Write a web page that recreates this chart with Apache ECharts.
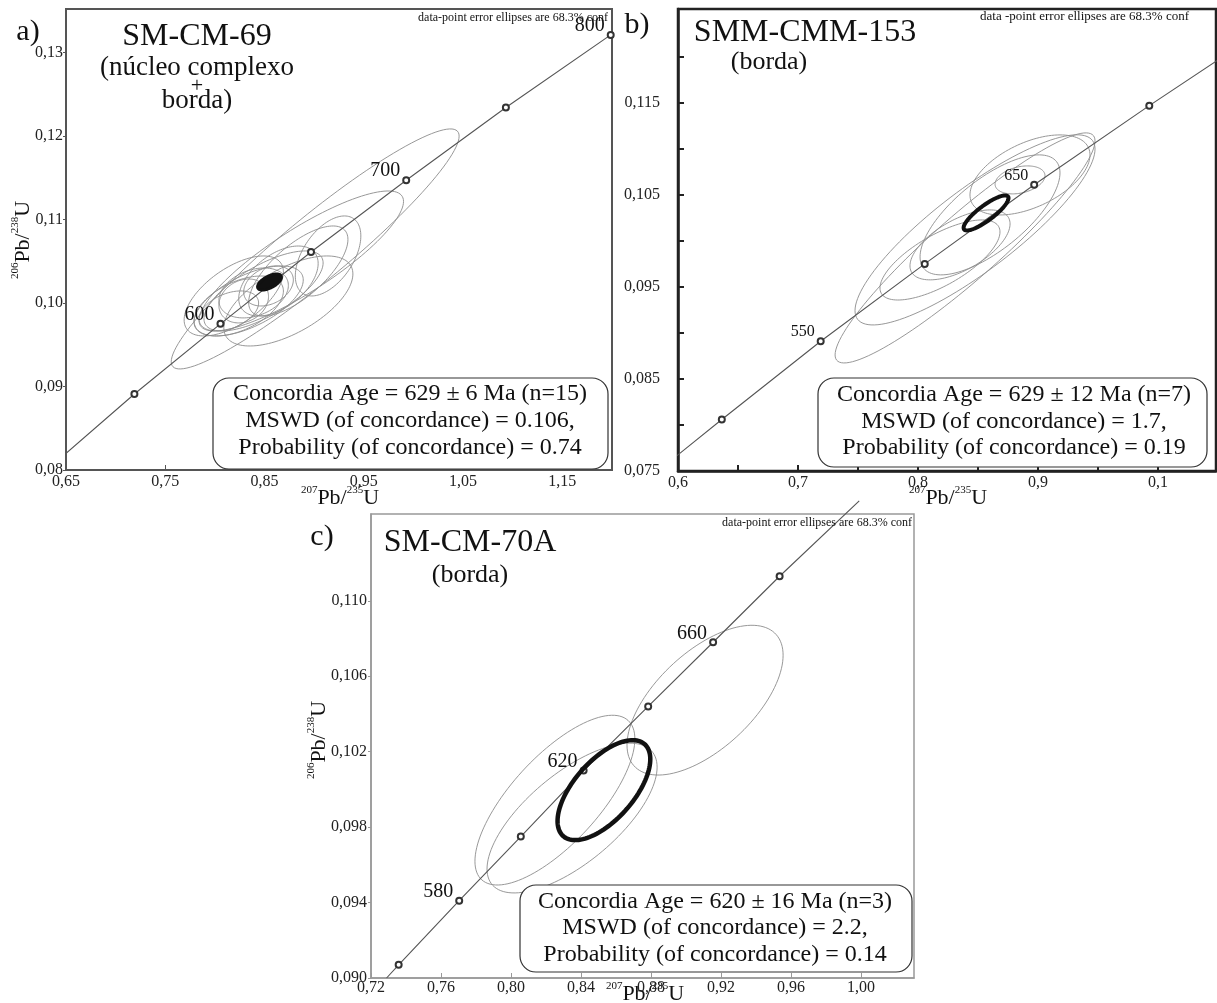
<!DOCTYPE html>
<html><head><meta charset="utf-8">
<script src="https://cdn.jsdelivr.net/npm/echarts@6/dist/echarts.min.js"></script>
<style>html,body{margin:0;padding:0;background:#fff}#c{width:1217px;height:1003px}</style>
</head><body><div id="c"></div>
<script>
// ---------- Concordia reference points (age in Ma, 207Pb/235U, 206Pb/238U) ----------
const ageA   = [500, 550, 600, 650, 700, 750, 800];
const concXA = [0.6365, 0.7189, 0.8056, 0.8968, 0.9927, 1.0931, 1.1987];
const concYA = [0.0806, 0.0891, 0.0975, 0.1061, 0.1147, 0.1234, 0.1321];
const labelA = ['', '', '600', '', '700', '', '800'];

const ageB   = [450, 500, 550, 600, 650, 700, 750];
const concXB = [0.5577, 0.6365, 0.7189, 0.8056, 0.8968, 0.9927, 1.0931];
const concYB = [0.0723, 0.0806, 0.0891, 0.0975, 0.1061, 0.1147, 0.1234];
const labelB = ['', '', '550', '', '650', '', ''];

// panel c: curve drawn from where it meets the x axis to just past the top frame
const ageC   = [null, 560, 580, 600, 620, 640, 660, 680, null];
const concXC = [0.7289, 0.7358, 0.7704, 0.8056, 0.8415, 0.8784, 0.9155, 0.9535, 0.9990];
const concYC = [0.0900, 0.0907, 0.0941, 0.0975, 0.1010, 0.1044, 0.1078, 0.1113, 0.1153];
const labelC = ['', '', '580', '', '620', '', '660', '', ''];

// ---------- Data-point error ellipses: centre, half-widths and correlation ----------
const ellAx   = [0.901, 0.887, 0.914, 0.834, 0.824, 0.849, 0.814, 0.864, 0.884, 0.874, 0.839, 0.829, 0.854, 0.819];
const ellAy   = [0.10647, 0.10503, 0.10563, 0.10024, 0.09964, 0.10144, 0.09904, 0.10263, 0.10383, 0.10024, 0.10120, 0.10024, 0.10204, 0.10084];
const ellAsx  = [0.145, 0.103, 0.033, 0.055, 0.045, 0.060, 0.030, 0.040, 0.050, 0.065, 0.035, 0.025, 0.025, 0.050];
const ellAsy  = [0.01437, 0.00838, 0.00479, 0.00419, 0.00359, 0.00479, 0.00240, 0.00419, 0.00539, 0.00539, 0.00299, 0.00263, 0.00240, 0.00479];
const ellArho = [0.94, 0.85, 0.5, 0.6, 0.5, 0.7, 0.4, 0.5, 0.7, 0.6, 0.3, 0.2, 0.3, 0.6];
const ageEllA = [0.855, 0.10251, 0.012, 0.00096, 0.6];

const ellBx   = [0.8392, 0.8475, 0.860, 0.885, 0.835, 0.8183, 0.8933];
const ellBy   = [0.09924, 0.10120, 0.10283, 0.10663, 0.09957, 0.09793, 0.10717];
const ellBsx  = [0.1083, 0.100, 0.0583, 0.0208, 0.0417, 0.050, 0.050];
const ellBsy  = [0.0125, 0.01033, 0.00652, 0.00152, 0.0038, 0.00435, 0.00435];
const ellBrho = [0.93, 0.85, 0.7, 0.3, 0.6, 0.7, 0.5];
const ageEllB = [0.8567, 0.10304, 0.0187, 0.0019, 0.85];

const ellCx   = [0.9109, 0.8251, 0.8349];
const ellCy   = [0.10473, 0.09943, 0.09848];
const ellCsx  = [0.0446, 0.0457, 0.0486];
const ellCsy  = [0.00397, 0.0045, 0.00397];
const ellCrho = [0.6, 0.72, 0.68];
const ageEllC = [0.8531, 0.09996, 0.0265, 0.00265, 0.62];

// ---------- Ticks and tick labels ----------
const xTickA = [0.65, 0.75, 0.85, 0.95, 1.05, 1.15];
const xLabA  = ['0,65', '0,75', '0,85', '0,95', '1,05', '1,15'];
const yTickA = [0.08, 0.09, 0.10, 0.11, 0.12, 0.13];
const yLabA  = ['0,08', '0,09', '0,10', '0,11', '0,12', '0,13'];

const xTickB = [0.6, 0.65, 0.7, 0.75, 0.8, 0.85, 0.9, 0.95, 1.0];
const xLabB  = ['0,6', '', '0,7', '', '0,8', '', '0,9', '', '0,1'];
const yTickB = [0.075, 0.08, 0.085, 0.09, 0.095, 0.10, 0.105, 0.11, 0.115, 0.12];
const yLabB  = ['0,075', '', '0,085', '', '0,095', '', '0,105', '', '0,115', ''];

const xTickC = [0.72, 0.76, 0.80, 0.84, 0.88, 0.92, 0.96, 1.00];
const xLabC  = ['0,72', '0,76', '0,80', '0,84', '0,88', '0,92', '0,96', '1,00'];
const yTickC = [0.090, 0.094, 0.098, 0.102, 0.106, 0.110];
const yLabC  = ['0,090', '0,094', '0,098', '0,102', '0,106', '0,110'];

const statsA = ['Concordia Age = 629 ± 6 Ma (n=15)', 'MSWD (of concordance) = 0.106,', 'Probability (of concordance) = 0.74'];
const statsB = ['Concordia Age = 629 ± 12 Ma (n=7)', 'MSWD (of concordance) = 1.7,', 'Probability (of concordance) = 0.19'];
const statsC = ['Concordia Age = 620 ± 16 Ma (n=3)', 'MSWD (of concordance) = 2.2,', 'Probability (of concordance) = 0.14'];

const FONT = '"Liberation Serif", "Times New Roman", serif';

function labFmt(vals, labs) {
  return function (v) {
    for (let i = 0; i < vals.length; i++) if (Math.abs(vals[i] - v) < 1e-7) return labs[i];
    return '';
  };
}

function ellRender(color, lw, fill) {
  return function (params, api) {
    const cx = api.value(0), cy = api.value(1), sx = api.value(2), sy = api.value(3), r = api.value(4);
    const k = Math.sqrt(1 - r * r);
    const pts = [];
    for (let i = 0; i < 120; i++) {
      const t = i / 120 * Math.PI * 2;
      pts.push(api.coord([cx + sx * Math.cos(t), cy + sy * (r * Math.cos(t) + k * Math.sin(t))]));
    }
    return { type: 'polygon', shape: { points: pts }, style: { fill: fill || 'none', stroke: color, lineWidth: lw } };
  };
}

function ellData(xs, ys, sxs, sys, rhos) {
  return xs.map((x, i) => [x, ys[i], sxs[i], sys[i], rhos[i]]);
}

function concData(ages, xs, ys, labels, fs) {
  return xs.map((x, i) => ({
    value: [x, ys[i]],
    symbol: ages[i] == null ? 'none' : 'emptyCircle',
    label: labels[i] ? { show: true, formatter: labels[i], position: 'left', distance: 2, offset: [0, -9],
      fontFamily: FONT, fontSize: fs, color: '#111' } : { show: false }
  }));
}

const chart = echarts.init(document.getElementById('c'), null, { renderer: 'canvas' });

function axis(grid, min, max, interval, vals, labs, color, w, tick, label) {
  return { gridIndex: grid, type: 'value', min: min, max: max, interval: interval,
    axisLine: { show: true, onZero: false, lineStyle: { color: color, width: w } },
    splitLine: { show: false },
    axisTick: Object.assign({ customValues: vals, lineStyle: { color: color, width: tick.w || 1 } }, tick),
    axisLabel: Object.assign({ customValues: vals, formatter: labFmt(vals, labs), fontFamily: FONT, fontSize: 16,
      color: '#222' }, label) };
}
function concSeries(idx, data, clip) {
  return { type: 'line', xAxisIndex: idx, yAxisIndex: idx, clip: clip, data: data,
    symbolSize: 6, lineStyle: { color: '#555', width: 1.1 },
    itemStyle: { color: '#333', borderWidth: 1.6 }, z: 3 };
}

const option = {
  animation: false,
  backgroundColor: '#fff',
  grid: [
    { left: 66, top: 9, width: 546, height: 461, show: true, borderColor: '#555', borderWidth: 2, backgroundColor: 'transparent' },
    { left: 678, top: 9, width: 538, height: 462, show: true, borderColor: '#222', borderWidth: 2.5, backgroundColor: 'transparent' },
    { left: 371, top: 514, width: 543, height: 464, show: true, borderColor: '#999', borderWidth: 1.5, backgroundColor: 'transparent' }
  ],
  xAxis: [
    axis(0, 0.65, 1.2, 0.1, xTickA, xLabA, '#555', 2, { inside: true, length: 5 }, { margin: 4 }),
    axis(1, 0.6, 1.0483, 0.05, xTickB, xLabB, '#222', 2.5, { inside: true, length: 6, w: 2 }, { margin: 4 }),
    axis(2, 0.72, 1.0303, 0.04, xTickC, xLabC, '#999', 1.5, { inside: true, length: 5 }, { margin: 2 })
  ],
  yAxis: [
    axis(0, 0.08, 0.1352, 0.01, yTickA, yLabA, '#555', 2, { inside: false, length: 3 }, { margin: 3 }),
    axis(1, 0.075, 0.1252, 0.005, yTickB, yLabB, '#222', 2.5, { inside: true, length: 6, w: 2 }, { margin: 18 }),
    axis(2, 0.09, 0.1146, 0.002, yTickC, yLabC, '#999', 1.5, { inside: false, length: 3 }, { margin: 4 })
  ],
  series: [
    { type: 'custom', xAxisIndex: 0, yAxisIndex: 0, clip: true, renderItem: ellRender('#8c8c8c', 0.9),
      data: ellData(ellAx, ellAy, ellAsx, ellAsy, ellArho), z: 2 },
    concSeries(0, concData(ageA, concXA, concYA, labelA, 20), true),
    { type: 'custom', xAxisIndex: 0, yAxisIndex: 0, clip: true, renderItem: ellRender('#111', 3, '#111'),
      data: [ageEllA], z: 4 },

    { type: 'custom', xAxisIndex: 1, yAxisIndex: 1, clip: true, renderItem: ellRender('#8c8c8c', 0.9),
      data: ellData(ellBx, ellBy, ellBsx, ellBsy, ellBrho), z: 2 },
    concSeries(1, concData(ageB, concXB, concYB, labelB, 16), true),
    { type: 'custom', xAxisIndex: 1, yAxisIndex: 1, clip: true, renderItem: ellRender('#111', 4),
      data: [ageEllB], z: 4 },

    { type: 'custom', xAxisIndex: 2, yAxisIndex: 2, clip: true, renderItem: ellRender('#8c8c8c', 0.9),
      data: ellData(ellCx, ellCy, ellCsx, ellCsy, ellCrho), z: 2 },
    concSeries(2, concData(ageC, concXC, concYC, labelC, 20), false),
    { type: 'custom', xAxisIndex: 2, yAxisIndex: 2, clip: true, renderItem: ellRender('#111', 4.5),
      data: [ageEllC], z: 4 }
  ],
  graphic: []
};

function txt(x, y, text, size, align, extra) {
  return Object.assign({ type: 'text', x: x, y: y, z: 100,
    style: { text: text, font: size + 'px ' + FONT, fill: '#111', align: align || 'center', verticalAlign: 'middle' } }, extra || {});
}
function statsBox(x, y, w, h, lines, cx, ly) {
  const g = [{ type: 'rect', z: 90, shape: { x: x, y: y, width: w, height: h, r: 16 },
    style: { fill: '#fff', stroke: '#333', lineWidth: 1.2 } }];
  lines.forEach((l, i) => g.push(txt(cx, ly[i], l, 24, 'center')));
  return g;
}
function ratioTitle(x, y, top, bot, rot) {
  return { type: 'text', x: x, y: y, rotation: rot || 0, z: 100,
    style: { text: '{s|' + top + '}{m|Pb/}{s|' + bot + '}{m|U}', align: 'center', verticalAlign: 'middle',
      rich: { m: { font: '22px ' + FONT, fill: '#111', lineHeight: 24, verticalAlign: 'bottom' },
              s: { font: '11px ' + FONT, fill: '#111', lineHeight: 24, verticalAlign: 'top' } } } };
}

option.graphic = [].concat(
  // panel a
  txt(28, 32, 'a)', 30),
  txt(197, 37, 'SM-CM-69', 32),
  txt(197, 68, '(núcleo complexo', 27),
  txt(197, 86, '+', 22),
  txt(197, 101, 'borda)', 27),
  txt(608, 18, 'data-point error ellipses are 68.3% conf', 12, 'right'),
  statsBox(213, 378, 395, 91, statsA, 410, [394, 421, 448]),
  ratioTitle(22, 240, '206', '238', Math.PI / 2),
  ratioTitle(340, 497, '207', '235'),
  // panel b
  txt(637, 25, 'b)', 30),
  txt(805, 33, 'SMM-CMM-153', 32),
  txt(769, 62, '(borda)', 26),
  txt(1189, 17, 'data -point error ellipses are 68.3% conf', 13, 'right'),
  statsBox(818, 378, 389, 89, statsB, 1014, [395, 422, 448]),
  ratioTitle(948, 497, '207', '235'),
  // panel c
  txt(322, 537, 'c)', 30),
  txt(470, 543, 'SM-CM-70A', 32),
  txt(470, 575, '(borda)', 26),
  txt(912, 523, 'data-point error ellipses are 68.3% conf', 12, 'right'),
  statsBox(520, 885, 392, 87, statsC, 715, [902, 928, 955]),
  ratioTitle(318, 740, '206', '238', Math.PI / 2),
  ratioTitle(645, 993, '207', '235')
);

chart.setOption(option);
</script>
</body></html>
